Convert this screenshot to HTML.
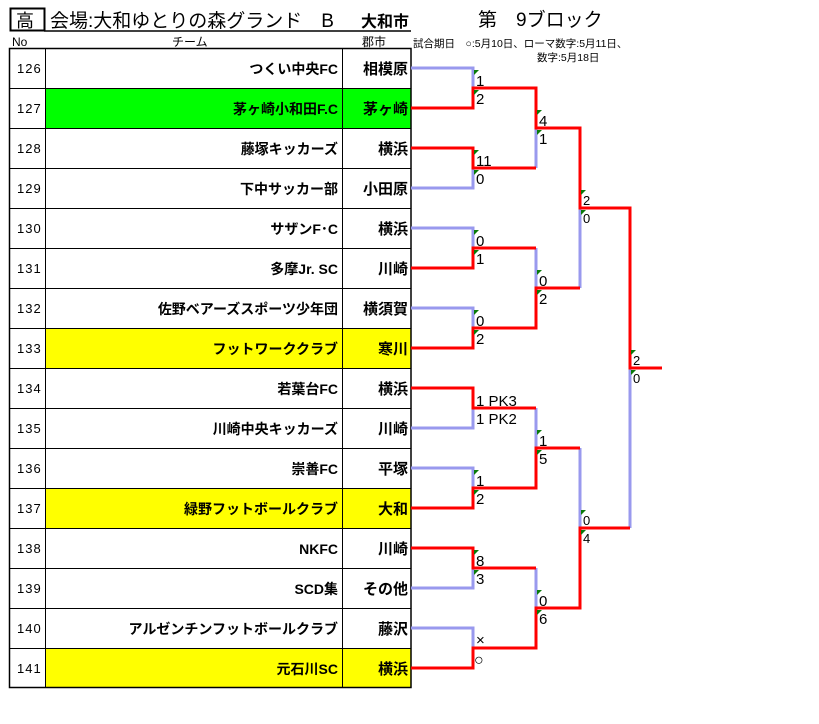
<!DOCTYPE html>
<html><head><meta charset="utf-8"><style>
body{margin:0;background:#fff;width:819px;height:724px;overflow:hidden}
svg{display:block}
text{font-family:"Liberation Sans","Noto Sans CJK JP",sans-serif}
</style></head><body>
<svg width="819" height="724" xmlns="http://www.w3.org/2000/svg">
<rect x="10.5" y="8.5" width="34" height="22" fill="none" stroke="#000" stroke-width="2"/>
<text x="16" y="27" font-size="18">高</text>
<text x="50" y="27" font-size="19">会場:大和ゆとりの森グランド　B</text>
<text x="361" y="27" font-size="16" font-weight="bold">大和市</text>
<line x1="44" y1="31" x2="411" y2="31" stroke="#000" stroke-width="1.5"/>
<text x="478" y="26" font-size="19">第　9ブロック</text>
<text x="413" y="47" font-size="10.5">試合期日　○:5月10日、ローマ数字:5月11日、</text>
<text x="537" y="61" font-size="10.5">数字:5月18日</text>
<text x="12" y="46" font-size="12">No</text>
<text x="172" y="46" font-size="12">チーム</text>
<text x="362" y="46" font-size="12">郡市</text>
<g>
<rect x="45" y="88" width="366" height="40" fill="#00ff00"/>
<rect x="45" y="328" width="366" height="40" fill="#ffff00"/>
<rect x="45" y="488" width="366" height="40" fill="#ffff00"/>
<rect x="45" y="648" width="366" height="40" fill="#ffff00"/>
</g>
<g stroke="#000" stroke-width="1">
<rect x="9.5" y="48.5" width="401.5" height="639" fill="none" stroke-width="1.5"/>
<line x1="45.5" y1="48" x2="45.5" y2="688"/>
<line x1="342.5" y1="48" x2="342.5" y2="688"/>
<line x1="10" y1="88.5" x2="411" y2="88.5"/><line x1="10" y1="128.5" x2="411" y2="128.5"/>
<line x1="10" y1="168.5" x2="411" y2="168.5"/><line x1="10" y1="208.5" x2="411" y2="208.5"/>
<line x1="10" y1="248.5" x2="411" y2="248.5"/><line x1="10" y1="288.5" x2="411" y2="288.5"/>
<line x1="10" y1="328.5" x2="411" y2="328.5"/><line x1="10" y1="368.5" x2="411" y2="368.5"/>
<line x1="10" y1="408.5" x2="411" y2="408.5"/><line x1="10" y1="448.5" x2="411" y2="448.5"/>
<line x1="10" y1="488.5" x2="411" y2="488.5"/><line x1="10" y1="528.5" x2="411" y2="528.5"/>
<line x1="10" y1="568.5" x2="411" y2="568.5"/><line x1="10" y1="608.5" x2="411" y2="608.5"/>
<line x1="10" y1="648.5" x2="411" y2="648.5"/>
</g>
<g font-size="13" fill="#000" letter-spacing="1">
<text x="17" y="73">126</text><text x="17" y="113">127</text><text x="17" y="153">128</text><text x="17" y="193">129</text>
<text x="17" y="233">130</text><text x="17" y="273">131</text><text x="17" y="313">132</text><text x="17" y="353">133</text>
<text x="17" y="393">134</text><text x="17" y="433">135</text><text x="17" y="473">136</text><text x="17" y="513">137</text>
<text x="17" y="553">138</text><text x="17" y="593">139</text><text x="17" y="633">140</text><text x="17" y="673">141</text>
</g>
<g font-size="14" font-weight="bold" text-anchor="end">
<text x="338" y="74">つくい中央FC</text><text x="338" y="114">茅ヶ崎小和田F.C</text>
<text x="338" y="154">藤塚キッカーズ</text><text x="338" y="194">下中サッカー部</text>
<text x="338" y="234">サザンF･C</text><text x="338" y="274">多摩Jr. SC</text>
<text x="338" y="314">佐野ベアーズスポーツ少年団</text><text x="338" y="354">フットワーククラブ</text>
<text x="338" y="394">若葉台FC</text><text x="338" y="434">川崎中央キッカーズ</text>
<text x="338" y="474">崇善FC</text><text x="338" y="514">緑野フットボールクラブ</text>
<text x="338" y="554">NKFC</text><text x="338" y="594">SCD集</text>
<text x="338" y="634">アルゼンチンフットボールクラブ</text><text x="338" y="674">元石川SC</text>
<text x="408" y="74" font-size="15">相模原</text><text x="408" y="114" font-size="15">茅ヶ崎</text>
<text x="408" y="154" font-size="15">横浜</text><text x="408" y="194" font-size="15">小田原</text>
<text x="408" y="234" font-size="15">横浜</text><text x="408" y="274" font-size="15">川崎</text>
<text x="408" y="314" font-size="15">横須賀</text><text x="408" y="354" font-size="15">寒川</text>
<text x="408" y="394" font-size="15">横浜</text><text x="408" y="434" font-size="15">川崎</text>
<text x="408" y="474" font-size="15">平塚</text><text x="408" y="514" font-size="15">大和</text>
<text x="408" y="554" font-size="15">川崎</text><text x="408" y="594" font-size="15">その他</text>
<text x="408" y="634" font-size="15">藤沢</text><text x="408" y="674" font-size="15">横浜</text>
</g>
<g fill="none" stroke="#9999ee" stroke-width="3">
<path d="M411,68H473V88"/><path d="M411,188H473V168"/><path d="M411,228H473V248"/><path d="M411,308H473V328"/>
<path d="M411,428H473V408"/><path d="M411,468H473V488"/><path d="M411,588H473V568"/><path d="M411,628H473V648"/>
<path d="M536,168V128"/><path d="M536,248V288"/><path d="M536,408V448"/><path d="M536,568V608"/>
<path d="M580,288V208"/><path d="M580,448V528"/>
<path d="M630,528V368"/>
</g>
<g fill="none" stroke="#ff0000" stroke-width="3">
<path d="M411,108H473V88H536V128H580V208H630V368H662"/>
<path d="M411,148H473V168H536"/>
<path d="M411,268H473V248H536"/>
<path d="M411,348H473V328H536V288H580"/>
<path d="M411,388H473V408H536"/>
<path d="M411,508H473V488H536V448H580"/>
<path d="M411,548H473V568H536"/>
<path d="M411,668H473V648H536V608H580V528H630"/>
</g>
<g fill="#0a7a0a">
<polygon points="474,70 479,70 474,75"/><polygon points="474,90 479,90 474,95"/>
<polygon points="474,150 479,150 474,155"/><polygon points="474,170 479,170 474,175"/>
<polygon points="474,230 479,230 474,235"/><polygon points="474,250 479,250 474,255"/>
<polygon points="474,310 479,310 474,315"/><polygon points="474,330 479,330 474,335"/>
<polygon points="474,470 479,470 474,475"/><polygon points="474,490 479,490 474,495"/>
<polygon points="474,550 479,550 474,555"/><polygon points="474,570 479,570 474,575"/>
<polygon points="537,110 542,110 537,115"/><polygon points="537,130 542,130 537,135"/>
<polygon points="537,270 542,270 537,275"/><polygon points="537,290 542,290 537,295"/>
<polygon points="537,430 542,430 537,435"/><polygon points="537,450 542,450 537,455"/>
<polygon points="537,590 542,590 537,595"/><polygon points="537,610 542,610 537,615"/>
<polygon points="581,190 586,190 581,195"/><polygon points="581,210 586,210 581,215"/>
<polygon points="581,510 586,510 581,515"/><polygon points="581,530 586,530 581,535"/>
<polygon points="631,350 636,350 631,355"/><polygon points="631,370 636,370 631,375"/>
</g>
<g font-size="15">
<text x="476" y="86">1</text><text x="476" y="104">2</text>
<text x="476" y="166">11</text><text x="476" y="184">0</text>
<text x="476" y="246">0</text><text x="476" y="264">1</text>
<text x="476" y="326">0</text><text x="476" y="344">2</text>
<text x="476" y="406">1 PK3</text><text x="476" y="424">1 PK2</text>
<text x="476" y="486">1</text><text x="476" y="504">2</text>
<text x="476" y="566">8</text><text x="476" y="584">3</text>
<text x="476" y="645">×</text><text x="474" y="665" font-size="16">○</text>
<text x="539" y="126">4</text><text x="539" y="144">1</text>
<text x="539" y="286">0</text><text x="539" y="304">2</text>
<text x="539" y="446">1</text><text x="539" y="464">5</text>
<text x="539" y="606">0</text><text x="539" y="624">6</text>
<text x="583" y="205" font-size="13">2</text><text x="583" y="223" font-size="13">0</text>
<text x="583" y="525" font-size="13">0</text><text x="583" y="543" font-size="13">4</text>
<text x="633" y="365" font-size="13">2</text><text x="633" y="383" font-size="13">0</text>
</g>
</svg>
</body></html>
